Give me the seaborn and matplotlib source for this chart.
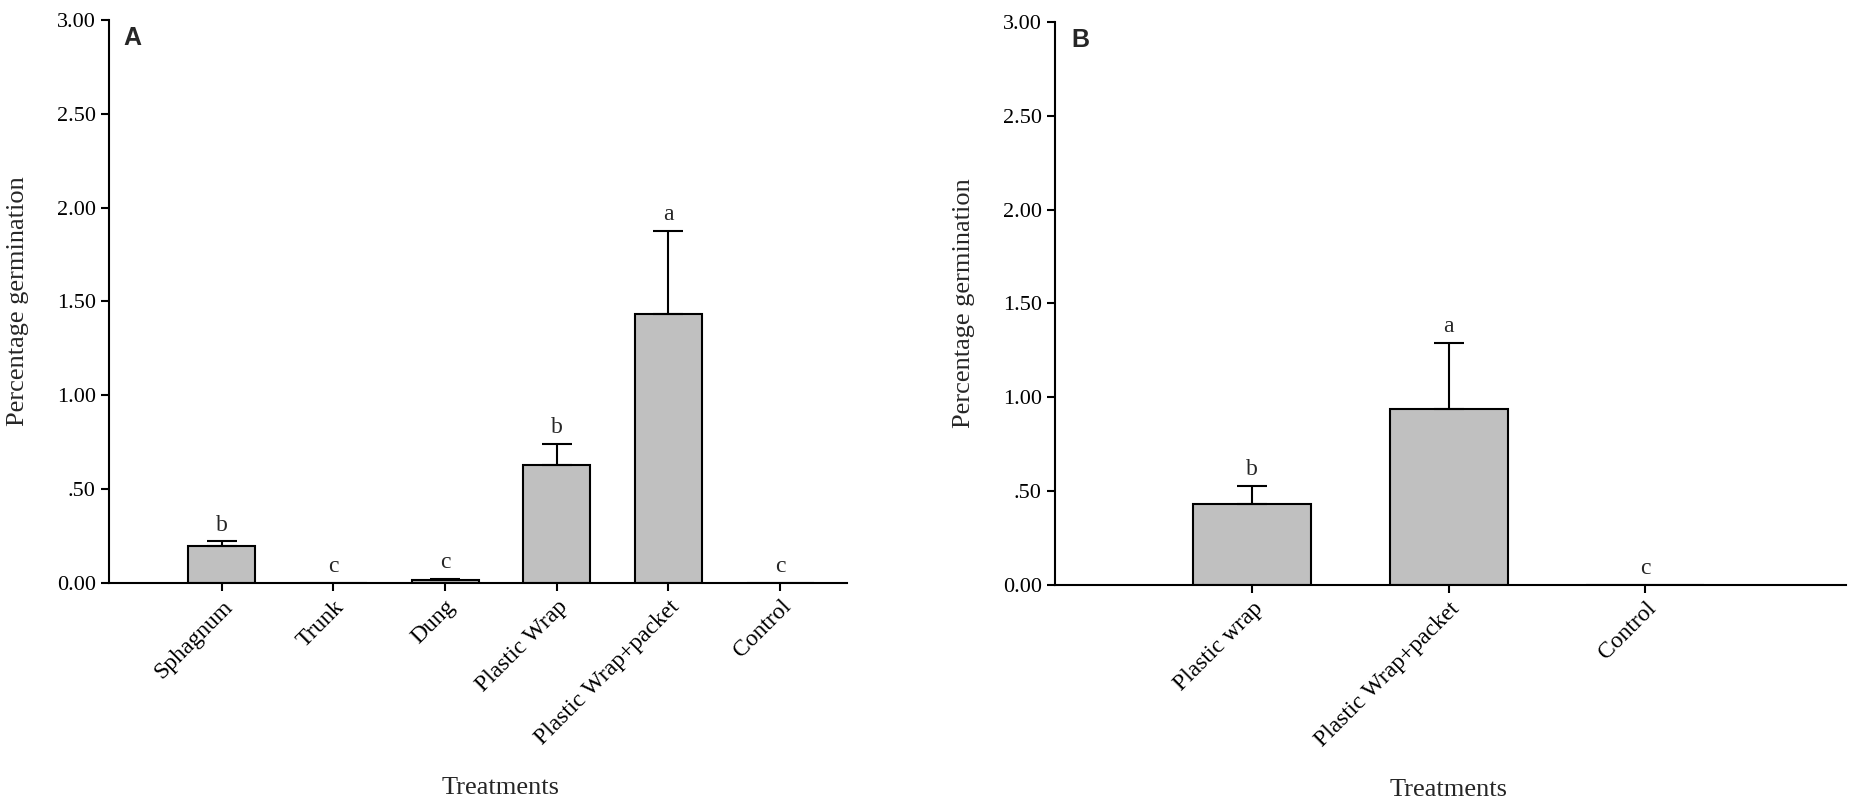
import numpy as np
import pandas as pd
import matplotlib
matplotlib.use("Agg")
import matplotlib.pyplot as plt
import matplotlib.transforms as mtransforms
import seaborn as sns

# Panel A
cats_a = ["Sphagnum", "Trunk", "Dung", "Plastic Wrap", "Plastic Wrap+packet", "Control"]
means_a = [0.197, 0.0, 0.015, 0.628, 1.431, 0.0]
se_a = [0.026, 0.0, 0.007, 0.114, 0.446, 0.0]
letters_a = ["b", "c", "c", "b", "a", "c"]

# Panel B
cats_b = ["Plastic wrap", "Plastic Wrap+packet", "Control"]
means_b = [0.43, 0.937, 0.0]
se_b = [0.10, 0.353, 0.0]
letters_b = ["b", "a", "c"]

yticks = [0.0, 0.5, 1.0, 1.5, 2.0, 2.5, 3.0]
ytick_labels = ["0.00", ".50", "1.00", "1.50", "2.00", "2.50", "3.00"]

sns.set_style("ticks")
plt.rcParams["font.family"] = ["Liberation Serif", "DejaVu Serif"]

fig = plt.figure(figsize=(18.5, 8.09), dpi=100)
ax_a = fig.add_axes([0.0589, 0.2794, 0.399, 0.696])
ax_b = fig.add_axes([0.5703, 0.2769, 0.4276, 0.696])


def draw_panel(ax, cats, means, se, letters, xlim, panel, ylab_x):
    df = pd.DataFrame({"treatment": cats, "mean": means})
    sns.barplot(data=df, x="treatment", y="mean", color="#c0c0c0", saturation=1,
                edgecolor="black", linewidth=1.5, width=0.6, errorbar=None, ax=ax)
    xs = np.arange(len(cats))
    for x, m, e, lab in zip(xs, means, se, letters):
        if e > 0:
            ax.errorbar(x, m, yerr=[[0], [e]], fmt="none", ecolor="black",
                        elinewidth=1.5, capsize=11, capthick=1.5)
        ax.annotate(lab, (x, m + e), xytext=(0, 4), textcoords="offset points",
                    ha="center", va="bottom", fontsize=17)

    ax.set_xlim(*xlim)
    ax.set_ylim(0, 3.0)
    ax.set_yticks(yticks)
    ax.set_yticklabels(ytick_labels)
    ax.set_xticks(xs)
    ax.set_xticklabels(cats, rotation=45, ha="right", rotation_mode="anchor", fontsize=17)
    ax.tick_params(axis="both", direction="out", length=6, width=1.5, colors="black")
    ax.tick_params(axis="y", labelsize=16)
    for s in ["top", "right"]:
        ax.spines[s].set_visible(False)
    for s in ["left", "bottom"]:
        ax.spines[s].set_linewidth(1.5)
        ax.spines[s].set_color("black")

    ax.set_ylabel("Percentage germination", fontsize=19)
    ax.yaxis.set_label_coords(ylab_x, 0.5)
    ax.set_xlabel("Treatments", fontsize=19)
    blend = mtransforms.blended_transform_factory(ax.transData, ax.transAxes)
    ax.xaxis.set_label_coords((len(cats) - 1) / 2.0, -0.345, transform=blend)

    ax.text(0.02, 0.99, panel, transform=ax.transAxes, fontsize=18, fontweight="bold",
            family="Liberation Sans", ha="left", va="top")


draw_panel(ax_a, cats_a, means_a, se_a, letters_a, (-1.01, 5.6), "A", -0.108)
draw_panel(ax_b, cats_b, means_b, se_b, letters_b, (-1.0, 3.02), "B", -0.101)

fig.savefig("out.png", dpi=100)
